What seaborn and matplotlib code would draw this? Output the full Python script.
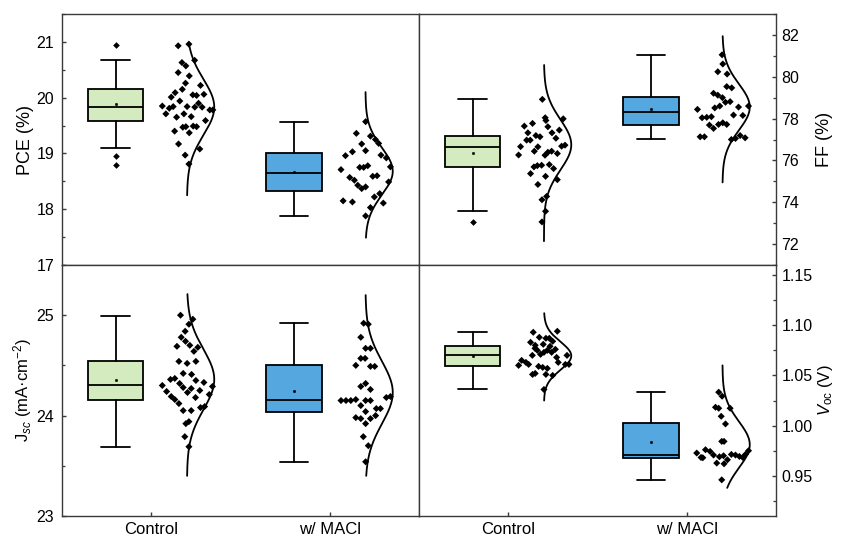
import numpy as np
import matplotlib
matplotlib.use("Agg")
import matplotlib.pyplot as plt
import seaborn as sns
from matplotlib.ticker import MultipleLocator, FormatStrFormatter

# ---------------------------------------------------------------- data
categories = ["Control", "w/ MACl"]
box_colors = ["#d4ebc0", "#55a8df"]

# PCE (%)
pce_ctrl = [20.93, 20.96, 20.63, 20.57, 20.67, 20.45, 20.39, 20.26, 20.15, 20.09,
            20.01, 20.22, 20.05, 20.04, 20.06, 19.94, 19.85, 19.81, 19.84, 19.84,
            19.83, 19.83, 19.90, 19.78, 19.78, 19.71, 19.65, 19.71, 19.66, 19.59,
            19.47, 19.48, 19.49, 19.48, 19.40, 19.37, 19.17, 19.08, 18.97, 18.81]
pce_ctrl_dx = [0.151, 0.211, 0.172, 0.194, 0.243, 0.151, 0.213, 0.192, 0.174, 0.134,
               0.112, 0.276, 0.233, 0.254, 0.295, 0.160, 0.062, 0.101, 0.123, 0.201,
               0.244, 0.285, 0.265, 0.328, 0.345, 0.082, 0.142, 0.183, 0.224, 0.304,
               0.177, 0.194, 0.235, 0.254, 0.131, 0.213, 0.153, 0.272, 0.190, 0.211]
pce_macl = [19.57, 19.36, 19.31, 19.25, 19.17, 19.18, 18.96, 19.03, 19.05, 18.97,
            18.92, 18.71, 18.75, 18.75, 18.78, 18.76, 18.57, 18.52, 18.59, 18.60,
            18.43, 18.37, 18.40, 18.49, 18.28, 18.22, 18.15, 18.13, 18.11, 18.03,
            17.88]
pce_macl_dx = [0.201, 0.149, 0.228, 0.256, 0.179, 0.274, 0.088, 0.127, 0.201, 0.287,
               0.317, 0.063, 0.168, 0.190, 0.213, 0.340, 0.112, 0.138, 0.241, 0.265,
               0.157, 0.179, 0.201, 0.330, 0.280, 0.250, 0.075, 0.127, 0.300, 0.228,
               0.201]

# FF (%)
ff_ctrl = [78.92, 78.04, 77.91, 77.99, 77.77, 77.64, 77.61, 77.32, 77.32, 77.45,
           77.19, 77.13, 76.97, 76.97, 77.06, 76.66, 76.65, 76.68, 76.73, 76.44,
           76.39, 76.44, 76.33, 76.25, 76.26, 75.69, 75.75, 75.77, 75.80, 75.61,
           75.37, 75.24, 75.08, 74.85, 74.28, 74.12, 73.57, 73.06]
ff_ctrl_dx = [0.191, 0.207, 0.211, 0.308, 0.136, 0.090, 0.222, 0.110, 0.245, 0.286,
              0.155, 0.178, 0.103, 0.123, 0.267, 0.069, 0.166, 0.299, 0.318, 0.146,
              0.222, 0.243, 0.275, 0.206, 0.058, 0.144, 0.163, 0.187, 0.230, 0.254,
              0.125, 0.209, 0.275, 0.166, 0.215, 0.189, 0.209, 0.189]
ff_macl = [81.05, 80.61, 80.24, 80.13, 79.53, 79.47, 79.21, 79.12, 79.00, 78.51,
           78.60, 78.78, 78.81, 78.55, 78.60, 78.44, 78.04, 78.06, 78.09, 78.17,
           78.15, 77.69, 77.53, 77.72, 77.80, 77.72, 77.13, 77.13, 77.00, 77.05,
           77.19, 77.08]
ff_macl_dx = [0.198, 0.202, 0.174, 0.226, 0.224, 0.252, 0.150, 0.174, 0.200, 0.157,
              0.185, 0.217, 0.243, 0.290, 0.346, 0.060, 0.086, 0.112, 0.138, 0.262,
              0.314, 0.127, 0.150, 0.178, 0.202, 0.224, 0.075, 0.099, 0.250, 0.273,
              0.299, 0.327]

# Jsc (mA cm-2)
jsc_ctrl = [25.00, 24.96, 24.91, 24.84, 24.78, 24.74, 24.70, 24.69, 24.68, 24.64,
            24.54, 24.52, 24.54, 24.42, 24.41, 24.37, 24.36, 24.32, 24.35, 24.33,
            24.30, 24.28, 24.27, 24.29, 24.24, 24.23, 24.25, 24.19, 24.16, 24.18,
            24.21, 24.12, 24.05, 24.05, 24.08, 24.09, 23.94, 23.92, 23.79, 23.69]
jsc_ctrl_dx = [0.164, 0.233, 0.211, 0.190, 0.168, 0.192, 0.216, 0.144, 0.261, 0.239,
               0.155, 0.201, 0.250, 0.179, 0.226, 0.132, 0.108, 0.159, 0.250, 0.295,
               0.062, 0.179, 0.224, 0.343, 0.086, 0.203, 0.272, 0.112, 0.132, 0.248,
               0.325, 0.155, 0.179, 0.224, 0.276, 0.299, 0.211, 0.194, 0.188, 0.211]
jsc_macl = [24.92, 24.91, 24.78, 24.67, 24.67, 24.57, 24.57, 24.50, 24.49, 24.49,
            24.32, 24.29, 24.26, 24.15, 24.15, 24.15, 24.16, 24.10, 24.15, 24.15,
            24.18, 24.19, 24.07, 24.07, 24.04, 23.98, 23.97, 23.97, 24.00, 23.92,
            23.79, 23.70, 23.54]
jsc_macl_dx = [0.190, 0.216, 0.174, 0.201, 0.228, 0.174, 0.198, 0.146, 0.228, 0.252,
               0.201, 0.174, 0.228, 0.063, 0.091, 0.118, 0.146, 0.174, 0.201, 0.228,
               0.317, 0.340, 0.261, 0.284, 0.201, 0.146, 0.174, 0.228, 0.257, 0.201,
               0.188, 0.216, 0.201]

# Voc (V)
voc_ctrl = [1.093, 1.094, 1.088, 1.087, 1.087, 1.084, 1.083, 1.080, 1.081, 1.079,
            1.077, 1.075, 1.073, 1.075, 1.076, 1.070, 1.071, 1.073, 1.068, 1.070,
            1.065, 1.063, 1.060, 1.061, 1.063, 1.061, 1.061, 1.059, 1.058, 1.057,
            1.051, 1.052, 1.051, 1.050, 1.036]
voc_ctrl_dx = [0.140, 0.275, 0.174, 0.211, 0.230, 0.249, 0.125, 0.151, 0.196, 0.234,
               0.150, 0.163, 0.200, 0.219, 0.264, 0.135, 0.181, 0.243, 0.271, 0.329,
               0.075, 0.099, 0.058, 0.114, 0.280, 0.320, 0.340, 0.170, 0.193, 0.219,
               0.136, 0.151, 0.211, 0.249, 0.200]
voc_macl = [1.0333, 1.0293, 1.0183, 1.0173, 1.0173, 1.0093, 1.0017, 0.9843, 0.9843,
            0.9727, 0.9683, 0.9760, 0.9743, 0.9707, 0.9690, 0.9700, 0.9660, 0.9713,
            0.9707, 0.9693, 0.9683, 0.9713, 0.9750, 0.9680, 0.9627, 0.9620, 0.9460]
voc_macl_dx = [0.179, 0.198, 0.161, 0.179, 0.243, 0.193, 0.217, 0.196, 0.209,
               0.056, 0.080, 0.105, 0.131, 0.150, 0.183, 0.206, 0.228, 0.250,
               0.273, 0.295, 0.314, 0.329, 0.346, 0.090, 0.168, 0.209, 0.196]

# box summaries: [whisker low, Q1, median, Q3, whisker high], mean, outliers
pce_box = [([19.09, 19.58, 19.84, 20.15, 20.68], 19.89, [20.94, 18.96, 18.80]),
           ([17.87, 18.32, 18.65, 19.00, 19.56], 18.67, [])]
ff_box = [([73.57, 75.67, 76.66, 77.16, 78.92], 76.34, [73.04]),
          ([77.02, 77.67, 78.31, 79.05, 81.02], 78.46, [])]
jsc_box = [([23.69, 24.16, 24.30, 24.54, 24.99], 24.35, []),
           ([23.54, 24.04, 24.16, 24.50, 24.92], 24.24, [])]
voc_box = [([1.036, 1.0593, 1.0707, 1.0793, 1.0933], 1.0693, []),
           ([0.946, 0.968, 0.971, 1.0027, 1.033], 0.9833, [])]

# normal distribution curves: (mean, sd, low end, high end)
pce_curve = [(19.83, 0.50, 18.25, 20.99), (18.68, 0.42, 17.49, 20.10)]
ff_curve = [(76.75, 1.20, 72.14, 80.56), (78.55, 1.10, 74.95, 81.94)]
jsc_curve = [(24.36, 0.30, 23.40, 25.21), (24.23, 0.31, 23.40, 25.20)]
voc_curve = [(1.0695, 0.014, 1.025, 1.112), (0.981, 0.023, 0.938, 1.060)]

# ---------------------------------------------------------------- style
sns.set_theme(style="ticks")
plt.rcParams["font.family"] = ["Liberation Sans", "DejaVu Sans"]
plt.rcParams["mathtext.fontset"] = "custom"
plt.rcParams["mathtext.rm"] = "Liberation Sans"
plt.rcParams["mathtext.it"] = "Liberation Sans:italic"
AXIS_GRAY = "#3a3a3a"
plt.rcParams.update({
    "axes.linewidth": 1.0,
    "axes.edgecolor": AXIS_GRAY,
    "text.color": "black",
    "axes.labelcolor": "black",
    "xtick.color": AXIS_GRAY,
    "ytick.color": AXIS_GRAY,
    "xtick.labelcolor": "black",
    "ytick.labelcolor": "black",
})

BOX_OFF, CURVE_OFF, BOX_W, CURVE_AMP = -0.2, 0.2, 0.31, 0.153


def draw_panel(ax, groups, boxes, curves):
    stats = []
    for (w, mean, fl) in boxes:
        stats.append(dict(whislo=w[0], q1=w[1], med=w[2], q3=w[3], whishi=w[4],
                          mean=mean, fliers=fl))
    pos = [i + BOX_OFF for i in range(len(stats))]
    bp = ax.bxp(stats, positions=pos, widths=BOX_W, patch_artist=True,
                showmeans=True, capwidths=0.16,
                boxprops=dict(linewidth=1.3, edgecolor="black"),
                whiskerprops=dict(linewidth=1.3, color="black"),
                capprops=dict(linewidth=1.3, color="black"),
                medianprops=dict(linewidth=1.3, color="black"),
                meanprops=dict(marker="s", markersize=1.3, markerfacecolor="black",
                               markeredgecolor="black", markeredgewidth=0.5),
                flierprops=dict(marker="D", markersize=3.4, markerfacecolor="black",
                                markeredgecolor="none"))
    for patch, c in zip(bp["boxes"], box_colors):
        patch.set_facecolor(c)

    for i, ((vals, dx), (mu, sd, lo, hi)) in enumerate(zip(groups, curves)):
        xs = i + np.asarray(dx)
        sns.scatterplot(x=xs, y=vals, marker="D", s=13, color="black",
                        edgecolor="none", ax=ax, legend=False, zorder=3)
        yy = np.linspace(lo, hi, 300)
        xx = i + CURVE_OFF + CURVE_AMP * np.exp(-0.5 * ((yy - mu) / sd) ** 2)
        sns.lineplot(x=xx, y=yy, sort=False, estimator=None, color="black",
                     linewidth=1.3, ax=ax, legend=False)
    ax.set_xlim(-0.5, 1.5)


fig, axes = plt.subplots(2, 2, figsize=(8.48, 5.39), dpi=100)
plt.subplots_adjust(left=0.0731, right=0.9151, bottom=0.0427, top=0.974,
                    wspace=0, hspace=0)

draw_panel(axes[0, 0], [(pce_ctrl, pce_ctrl_dx), (pce_macl, pce_macl_dx)], pce_box, pce_curve)
draw_panel(axes[0, 1], [(ff_ctrl, ff_ctrl_dx), (ff_macl, ff_macl_dx)], ff_box, ff_curve)
draw_panel(axes[1, 0], [(jsc_ctrl, jsc_ctrl_dx), (jsc_macl, jsc_macl_dx)], jsc_box, jsc_curve)
draw_panel(axes[1, 1], [(voc_ctrl, voc_ctrl_dx), (voc_macl, voc_macl_dx)], voc_box, voc_curve)

# y ranges, ticks and axis titles
ycfg = {
    (0, 0): ((17, 21.5), 1, 0.5, "%d", "PCE (%)", 13),
    (0, 1): ((71, 83), 2, 1, "%d", "FF (%)", 13),
    (1, 0): ((23, 25.5), 1, 0.5, "%d", r"J$_{\mathit{sc}}$ (mA·cm$^{-2}$)", 12),
    (1, 1): ((0.91, 1.16), 0.05, 0.025, "%.2f", r"$V_{\mathrm{oc}}$ (V)", 12),
}
for (r, c), (lim, maj, mnr, fmt, lab, fs) in ycfg.items():
    ax = axes[r, c]
    ax.set_ylim(*lim)
    ax.yaxis.set_major_locator(MultipleLocator(maj))
    ax.yaxis.set_minor_locator(MultipleLocator(mnr))
    ax.yaxis.set_major_formatter(FormatStrFormatter(fmt))
    ax.set_ylabel(lab, fontsize=fs)
    ax.set_xlabel("")
    if c == 0:
        ax.tick_params(axis="y", which="major", direction="in", length=3.2,
                       width=1.0, labelsize=11.5, pad=5.5, right=False)
        ax.tick_params(axis="y", which="minor", direction="in", length=2.2,
                       width=0.9, right=False)
        ax.yaxis.set_label_coords(-0.078, 0.5)
    else:
        ax.yaxis.tick_right()
        ax.yaxis.set_label_position("right")
        ax.tick_params(axis="y", which="major", direction="in", length=3.2,
                       width=1.0, labelsize=11.5, pad=4.0, left=False)
        ax.tick_params(axis="y", which="minor", direction="in", length=2.2,
                       width=0.9, left=False)
        ax.yaxis.set_label_coords(1.112, 0.5)
    if r == 0:
        ax.set_xticks([])
    else:
        ax.set_xticks(range(len(categories)))
        ax.set_xticklabels(categories, fontsize=12)
        ax.tick_params(axis="x", direction="in", length=3.2, width=1.0, pad=4)
    for s in ax.spines.values():
        s.set_visible(True)

fig.savefig("out.png", dpi=100)
